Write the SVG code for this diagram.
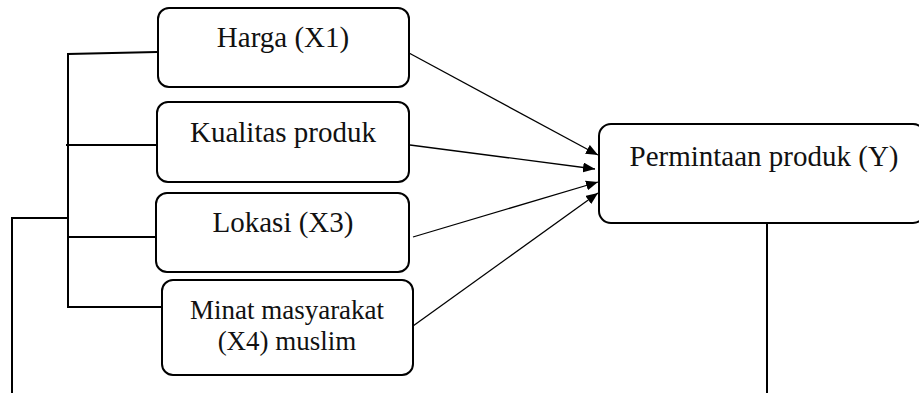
<svg xmlns="http://www.w3.org/2000/svg" width="919" height="393" viewBox="0 0 919 393">
<style>
.box{fill:#fff;stroke:#000;stroke-width:2}
text{font-family:'Liberation Serif','Times New Roman','DejaVu Serif',serif;fill:#111;text-anchor:middle}
.t{font-size:29px}
.t2{font-size:27px}
.ln{fill:none;stroke:#000;stroke-width:2}
.ar{fill:none;stroke:#000;stroke-width:1.3}
</style>
<defs>
<marker id="ah" viewBox="0 0 12 10" refX="12" refY="5" markerWidth="12" markerHeight="10" markerUnits="userSpaceOnUse" orient="auto">
<path d="M0,0 L12,5 L0,10 Z" fill="#000"/>
</marker>
</defs>
<g id="connectors">
<polyline class="ln" points="157,52 68,54 68,307 162,307"/>
<line class="ln" x1="66" y1="145" x2="163" y2="145"/>
<line class="ln" x1="68" y1="237" x2="157" y2="237"/>
<polyline class="ln" points="68,218 12,218 12,393"/>
<line class="ln" x1="767" y1="223" x2="767" y2="393"/>
<line class="ar" x1="409" y1="53" x2="598" y2="155" marker-end="url(#ah)"/>
<line class="ar" x1="410" y1="145" x2="595" y2="169" marker-end="url(#ah)"/>
<line class="ar" x1="413" y1="237" x2="598" y2="182" marker-end="url(#ah)"/>
<line class="ar" x1="413" y1="326" x2="598" y2="193" marker-end="url(#ah)"/>
</g>
<g id="node-harga">
<rect class="box" x="158" y="8" width="251" height="79" rx="11"/>
<text class="t" x="283" y="47" font-family="Liberation Serif, serif">Harga (X1)</text>
</g>
<g id="node-kualitas">
<rect class="box" x="157" y="102" width="252" height="80" rx="11"/>
<text class="t" x="283" y="142" font-family="Liberation Serif, serif">Kualitas produk</text>
</g>
<g id="node-lokasi">
<rect class="box" x="156" y="193" width="253" height="79" rx="11"/>
<text class="t" x="283" y="232" font-family="Liberation Serif, serif">Lokasi (X3)</text>
</g>
<g id="node-minat">
<rect class="box" x="162" y="280" width="251" height="95" rx="11"/>
<text class="t2" x="287" y="319" font-family="Liberation Serif, serif">Minat masyarakat</text>
<text class="t2" x="287" y="350" font-family="Liberation Serif, serif">(X4) muslim</text>
</g>
<g id="node-permintaan">
<rect class="box" x="599" y="124" width="326" height="99" rx="12"/>
<text class="t" x="764" y="166" font-family="Liberation Serif, serif">Permintaan produk (Y)</text>
</g>
</svg>
